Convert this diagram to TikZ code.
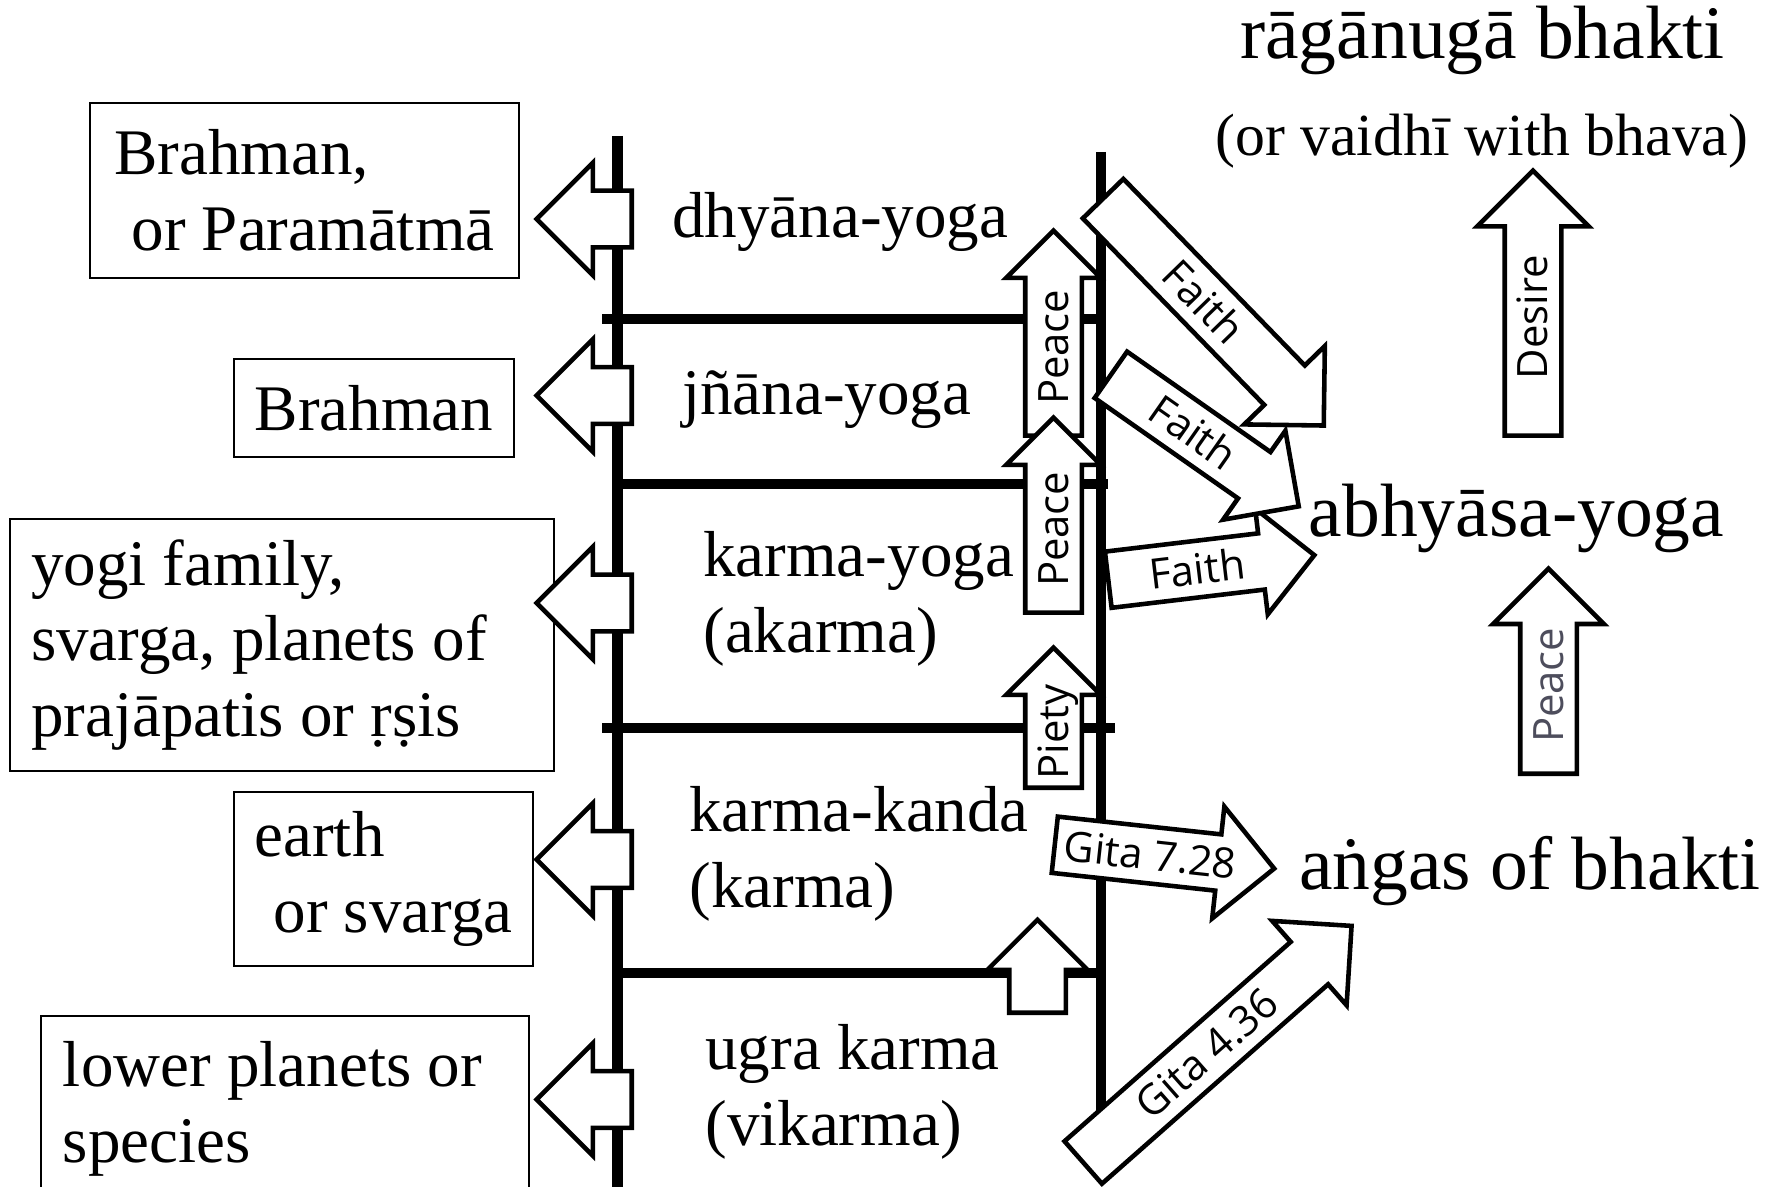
\documentclass[tikz,border=0pt]{standalone}
\usepackage{fontspec}
\setmainfont{Liberation Serif}
\newfontfamily\signfont{Open Sans}
\usetikzlibrary{shapes.arrows}

\definecolor{peacegray}{RGB}{77,77,92}

\tikzset{
  yoga/.style={font=\fontsize{37}{43.2}\selectfont, inner sep=0pt, align=left},
  goal/.style={draw, line width=1pt, font=\fontsize{37}{43.2}\selectfont, inner ysep=0pt, align=flush left},
  bhakti/.style={font=\fontsize{43}{50}\selectfont, inner sep=0pt},
  rung/.style={line width=6pt},
  blockarrow/.style={single arrow, single arrow tip angle=90, single arrow head extend=15.4pt,
    draw, fill=white, line width=2.6pt, inner sep=0pt, text height=23.3pt, text depth=6.3pt,
    anchor=tail, font=\signfont\fontsize{23.8}{25}\selectfont},
  goalarrow/.style={blockarrow, rotate=180, minimum height=54.1pt, single arrow head extend=15.9pt},
  riser/.style={blockarrow, rotate=90, single arrow head extend=10.8pt}
}

\begin{document}
\begin{tikzpicture}[scale=0.2]
\useasboundingbox (0,0) rectangle (178.7,-118.7);
\draw [rung] (61.75,-13.6) -- (61.75,-119);
\draw [rung] (110.1,-15.2) -- (110.1,-111.5);
\draw [rung] (60.2,-31.9) -- (110.1,-31.9);
\draw [rung] (61.75,-48.4) -- (110.8,-48.4);
\draw [rung] (60.2,-72.8) -- (111.5,-72.8);
\draw [rung] (61.75,-97.3) -- (110.1,-97.3);

\node [goal, minimum width=244.1pt, minimum height=99.6pt] (paramatma) at (30.45,-19.05) {Brahman,\\\hspace*{9.7pt}or Paramātmā};
\node [goal, minimum width=159.3pt, minimum height=55.8pt] (brahman) at (37.4,-40.8) {Brahman};
\node [goal, minimum width=309.6pt, minimum height=143.4pt, inner xsep=12pt, text width=285.6pt] (yogi) at (28.2,-64.5) {yogi family,\\svarga, planets of\\prajāpatis or ṛṣis};
\node [goal, minimum width=170.1pt, minimum height=99pt] (earth) at (38.35,-87.9) {earth\\\hspace*{10.8pt}or svarga};
\node [goal, minimum width=277.7pt, minimum height=105.8pt, inner xsep=12.5pt, text width=252.7pt] (lower) at (28.5,-110.9) {lower planets or\\species};

\node [goalarrow] (toparamatma) at (63.4,-21.9) {};
\node [goalarrow] (tobrahman) at (63.4,-39.55) {};
\node [goalarrow] (toyogi) at (63.4,-60.3) {};
\node [goalarrow] (toearth) at (63.4,-85.95) {};
\node [goalarrow] (tolower) at (63.4,-109.95) {};

\node [yoga, anchor=base west] (dhyana) at (67.2,-23.8) {dhyāna-yoga};
\node [yoga, anchor=base west] (jnana) at (68.2,-41.5) {jñāna-yoga};
\node [yoga, anchor=north west] (karmayoga) at (70.3,-53.1) {karma-yoga\\(akarma)};
\node [yoga, anchor=north west] (karmakanda) at (68.9,-78.6) {karma-kanda\\(karma)};
\node [yoga, anchor=north west] (ugra) at (70.5,-102.4) {ugra karma\\(vikarma)};

\node [bhakti, anchor=base] (raganuga) at (148.25,-5.9) {rāgānugā bhakti};
\node [bhakti, font=\fontsize{34}{40}\selectfont, anchor=base] (vaidhi) at (148.2,-15.6) {(or vaidhī with bhava)};
\node [bhakti, anchor=base] (abhyasa) at (151.65,-53.7) {abhyāsa-yoga};
\node [bhakti, anchor=base] (angas) at (153,-88.9) {aṅgas of bhakti};

\node [riser, minimum height=116.7pt] (peaceA) at (105.35,-43.8) {Peace};
\node [riser, minimum height=111pt] (peaceB) at (105.35,-61.5) {Peace};
\node [riser, minimum height=79.7pt] (piety) at (105.35,-79) {Piety};
\node [riser, minimum height=52.9pt, single arrow head extend=12.5pt] (lift) at (103.75,-101.5) {};
\node [blockarrow, rotate=6.8, minimum height=118.1pt, single arrow head extend=14.2pt] (faithC) at (110.6,-58) {Faith};
\node [blockarrow, rotate=-35, minimum height=130.5pt, single arrow head extend=14.8pt] (faithB) at (110.9,-37.35) {Faith};
\node [blockarrow, rotate=-45.8, minimum height=180.1pt, single arrow head extend=15.9pt] (faithA) at (110.15,-19.7) {Faith};
\node [blockarrow, rotate=-6.2, minimum height=125.6pt, single arrow head extend=15.9pt] (gitaA) at (105.25,-84.45) {Gita 7.28};
\node [blockarrow, rotate=41.4, minimum height=203.6pt, single arrow head extend=15.9pt] (gitaB) at (108.15,-116.4) {Gita 4.36};
\node [riser, minimum height=150.8pt, single arrow head extend=15.6pt] (desire) at (153.3,-43.8) {Desire};
\node [riser, minimum height=116.7pt, single arrow head extend=15.4pt, text=peacegray] (peaceC) at (154.85,-77.6) {Peace};
\end{tikzpicture}
\end{document}
